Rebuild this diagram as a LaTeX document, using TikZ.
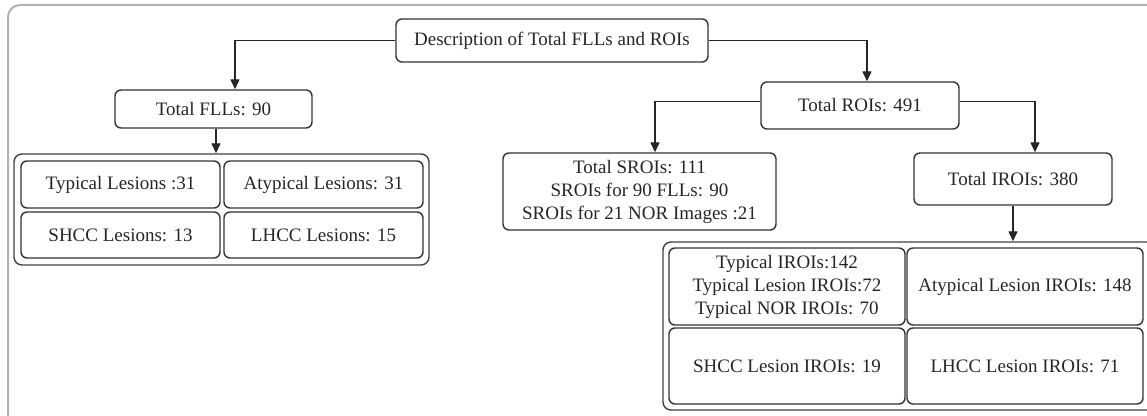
\documentclass[tikz,border=0pt]{standalone}
\usepackage{fontspec}
\setmainfont{Liberation Serif}
\usetikzlibrary{arrows.meta}

\tikzset{
    sz/.style 2 args={minimum width=#1*0.5pt, minimum height=#2*0.5pt},
    box/.style={draw=black!80, line width=0.7pt, rounded corners=3pt, inner sep=0pt,
        align=center, text=black!85, font=\fontsize{9.5}{11.5}\selectfont},
    grp/.style={draw=black!75, line width=0.7pt, rounded corners=4pt, inner sep=0pt},
    arr/.style={draw=black!85, line width=0.7pt, -{Triangle[length=5pt,width=4.5pt]}}
}

\begin{document}
\begin{tikzpicture}[x=0.5pt, y=-0.5pt]
        \useasboundingbox (0,0) rectangle (1147,416);
        \draw[black!30, line width=1pt, rounded corners=6pt] (8,5) rectangle (1175,440);

        % top row
        \node[box, sz={312}{43}] (root) at (552, 40.5) {Description of Total FLLs and ROIs};
        \node[box, sz={197}{38}] (flls) at (213.5, 109) {Total FLLs: 90};
        \node[box, sz={198}{47}] (rois) at (860, 105.5) {Total ROIs: 491};

        % ROI children
        \node[box, sz={273}{77}] (srois) at (639.5, 191.5) {Total SROIs: 111\\SROIs for 90 FLLs: 90\\SROIs for 21 NOR Images :21};
        \node[box, sz={198}{52}] (irois) at (1013, 179) {Total IROIs: 380};

        % lesion group
        \node[grp, sz={415}{111}] (fgrp) at (221.5, 209.5) {};
        \node[box, sz={199}{47}] (f1) at (120.5, 184.5) {Typical Lesions :31};
        \node[box, sz={199}{47}] (f2) at (323.5, 184.5) {Atypical Lesions: 31};
        \node[box, sz={199}{46}] (f3) at (120.5, 235) {SHCC Lesions: 13};
        \node[box, sz={199}{46}] (f4) at (323.5, 235) {LHCC Lesions: 15};

        % IROI group
        \node[grp, sz={497}{168}] (igrp) at (911.5, 326) {};
        \node[box, sz={236}{77}] (i1) at (787, 286.5) {Typical IROIs:142\\Typical Lesion IROIs:72\\Typical NOR IROIs: 70};
        \node[box, sz={236}{77}] (i2) at (1025, 286.5) {Atypical Lesion IROIs: 148};
        \node[box, sz={236}{76}] (i3) at (787, 366) {SHCC Lesion IROIs: 19};
        \node[box, sz={236}{76}] (i4) at (1025, 366) {LHCC Lesion IROIs: 71};

        % connectors
        \draw[arr] (root.west) -| ([xshift=10.75pt]flls.north);
        \draw[arr] (root.east) -| ([xshift=3.5pt]rois.north);
        \draw[arr] ([yshift=2pt]rois.west) -| ([xshift=7.75pt]srois.north);
        \draw[arr] ([yshift=2pt]rois.east) -| ([xshift=11pt]irois.north);
        \draw[arr] ([xshift=1.25pt]flls.south) -- ([xshift=1.25pt]flls.south |- fgrp.north);
        \draw[arr] (irois.south) -- (irois.south |- igrp.north);

    \end{tikzpicture}
\end{document}
